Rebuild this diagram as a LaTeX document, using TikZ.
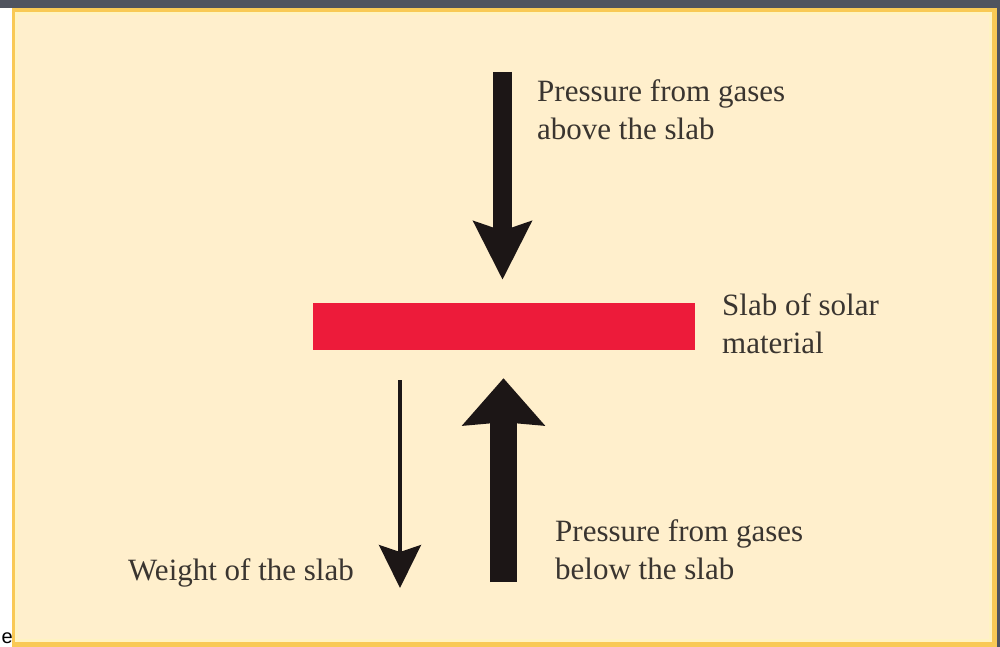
\documentclass[tikz,border=0pt]{standalone}
\usepackage{fontspec}
\setmainfont{Liberation Serif}
\newfontfamily\slidesans{Liberation Sans}
\usetikzlibrary{arrows.meta, positioning}

\definecolor{slidegrey}{HTML}{50545F}
\definecolor{framegold}{HTML}{F9C955}
\definecolor{framelight}{HTML}{FFF3C2}
\definecolor{paper}{HTML}{FFEFCC}
\definecolor{slabred}{HTML}{ED1B3A}
\definecolor{inkbrown}{HTML}{3A3530}
\definecolor{arrowblack}{HTML}{1C1616}

\begin{document}
\begin{tikzpicture}[
  x=1pt, y=-1pt,
  slab/.style={rectangle, fill=slabred, minimum width=382pt, minimum height=47pt, inner sep=0pt},
  caption/.style={font=\fontsize{31}{38}\selectfont, text=inkbrown, align=left, inner sep=0pt, anchor=north west},
  pushdown/.style={arrowblack, line width=19pt, -{Stealth[length=58pt, width=57pt, inset=9pt]}},
  pushup/.style={arrowblack, line width=27pt, -{Stealth[length=47pt, width=81pt, inset=3pt]}},
  weight/.style={arrowblack, line width=3.5pt, -{Stealth[length=43pt, width=42pt, inset=7pt]}}
]
  \useasboundingbox (0,0) rectangle (1000,647);
  % slide background and frame
  \fill[white] (0,0) rectangle (1000,647);
  \fill[slidegrey] (0,0) rectangle (1000,8);
  \fill[slidegrey] (997,0) rectangle (1000,647);
  \fill[framegold] (12,8) rectangle (997,647);
  \fill[framelight] (15,12) rectangle (992,642);
  \fill[paper] (18,15) rectangle (989,639);
  \node[font=\slidesans\fontsize{20}{20}\selectfont, inner sep=0pt, anchor=base west] (cut) at (1.5,643.5) {e};

  \node[slab] (slab) at (504,326.5) {};

  \coordinate (topstart) at (502.5,72);
  \coordinate (upstart) at (503.5,582);
  \coordinate (weightstart) at (400,380);
  \coordinate (weightend) at (400,588);

  \draw[pushdown, shorten >=23pt] (topstart) -- (topstart |- slab.north);
  \draw[pushup, shorten >=28pt] (upstart) -- (upstart |- slab.south);
  \draw[weight] (weightstart) -- (weightend);

  \node[caption] (abovelbl) at (537,79) {Pressure from gases\\above the slab};
  \node[caption] (slablbl) at (722,293) {Slab of solar\\material};
  \node[caption] (weightlbl) at (128,558) {Weight of the slab};
  \node[caption] (belowlbl) at (555,519) {Pressure from gases\\below the slab};
\end{tikzpicture}
\end{document}
